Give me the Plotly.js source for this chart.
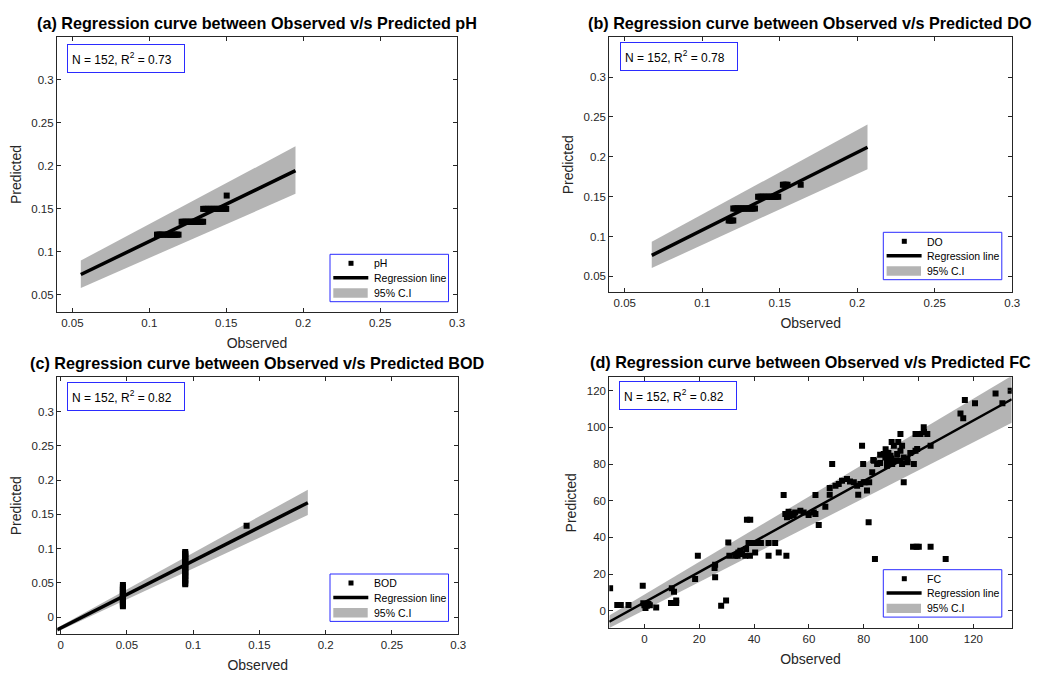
<!DOCTYPE html>
<html>
<head>
<meta charset="utf-8">
<script src="https://cdn.plot.ly/plotly-3.0.1.min.js"></script>
<style>html,body{margin:0;padding:0;background:#fff;}#chart{width:1038px;height:673px;}</style>
</head>
<body>
<div id="chart"></div>
<script>
// ---------- (a) pH ----------
const phObs  = [0.105,0.106,0.107,0.108,0.109,0.111,0.112,0.113,0.114,0.115,0.116,0.117,0.118,0.119,
                0.121,0.122,0.123,0.124,0.125,0.126,0.127,0.128,0.129,0.130,0.131,0.132,0.133,0.134,0.135,
                0.135,0.136,0.137,0.138,0.139,0.140,0.141,0.142,0.143,0.144,0.145,0.146,0.147,0.148,0.149,0.150,
                0.1503];
const phPred = [0.12,0.12,0.12,0.12,0.12,0.12,0.12,0.12,0.12,0.12,0.12,0.12,0.12,0.12,
                0.135,0.135,0.135,0.135,0.135,0.135,0.135,0.135,0.135,0.135,0.135,0.135,0.135,0.135,0.135,
                0.15,0.15,0.15,0.15,0.15,0.15,0.15,0.15,0.15,0.15,0.15,0.15,0.15,0.15,0.15,0.15,
                0.1655];
const phLineX = [0.0555, 0.195];
const phLineY = [0.0736, 0.1945];
const phBandX = [0.0555, 0.195];
const phBandLower = [0.058, 0.1675];
const phBandUpper = [0.0899, 0.2228];

// ---------- (b) DO ----------
const doObs  = [0.117,0.118,0.119,0.120,
                0.120,0.121,0.122,0.123,0.124,0.125,0.126,0.127,0.128,0.129,0.130,0.131,0.132,0.133,0.134,
                0.136,0.137,0.138,0.139,0.140,0.141,0.142,0.143,0.144,0.145,0.146,0.147,0.148,0.149,
                0.152,0.153,0.154,0.155,0.1635];
const doPred = [0.12,0.12,0.12,0.12,
                0.135,0.135,0.135,0.135,0.135,0.135,0.135,0.135,0.135,0.135,0.135,0.135,0.135,0.135,0.135,
                0.15,0.15,0.15,0.15,0.15,0.15,0.15,0.15,0.15,0.15,0.15,0.15,0.15,0.15,
                0.165,0.165,0.165,0.165,0.165];
const doLineX = [0.0674, 0.2066];
const doLineY = [0.0763, 0.212];
const doBandX = [0.0674, 0.2066];
const doBandLower = [0.0604, 0.1845];
const doBandUpper = [0.0933, 0.2404];

// ---------- (c) BOD ----------
const bodObs  = [0.047,0.047,0.047,0.047,0.047,0.047,0.047,0.047,0.047,0.047,0.047,0.047,0.047,0.047,0.047,0.047,
                 0.094,0.094,0.094,0.094,0.094,0.094,0.094,0.094,0.094,0.094,0.094,0.094,0.094,0.094,0.094,0.094,
                 0.094,0.094,0.094,0.094,0.094,0.094,0.094,0.094,
                 0.1403];
const bodPred = [0.016,0.018,0.020,0.022,0.024,0.026,0.028,0.030,0.032,0.034,0.036,0.038,0.040,0.042,0.044,0.047,
                 0.048,0.050,0.053,0.055,0.058,0.060,0.062,0.064,0.066,0.068,0.070,0.072,0.074,0.076,0.078,0.080,
                 0.082,0.084,0.086,0.088,0.090,0.092,0.093,0.095,
                 0.1335];
const bodLineX = [-0.0025, 0.1865];
const bodLineY = [-0.0184, 0.167];
const bodBandX = [-0.0025, 0.1865];
const bodBandLower = [-0.0214, 0.149];
const bodBandUpper = [-0.0154, 0.186];

// ---------- (d) FC ----------
const fcObs = [-12.5,-9.9,-8.6,-5.8,-0.6,-0.4,0.9,0.4,1.5,0,2,4.3,9.7,10.8,11.6,11.6,10,10.8,18.5,19.5,
               25.8,25.6,25.8,28,29.8,30.6,31,33.1,34.3,35.6,36.8,35,37.1,34,37.4,38.6,38,39.5,41,42.5,
               40.4,38.5,45.3,45.3,47.7,49,51.8,50.8,51.4,52.6,53.8,55,56.9,58.1,52,53,54.5,59.9,61.8,62.4,
               63.6,62.4,66,67.6,67.6,68.5,69.7,70.9,72.1,73.9,76.4,75,78,77.6,78.8,80,79.4,79.8,81.2,81.8,
               80.6,82,83.1,83.7,84.9,84.1,87.3,87.9,88.5,88.5,89.8,90.4,91,92.2,93.4,94,94,94.6,93.4,93.4,
               90.2,92.6,88,89,94.6,95.9,98.3,98.9,99.5,98.9,100.7,101.9,103.2,102,98,99.3,100.1,104.4,109.9,104.4,
               115.3,116.3,116.9,120.6,128.1,130.6,133.6,83.5,86,97,96,92,90,86];
const fcPred = [12.2,3.1,3.1,3.1,13.6,4,2.7,1.5,3.6,3,3,1.8,4.2,4.2,5.5,4.2,12.2,10.4,17.3,30,
                18.2,23.3,25,2.7,5.5,37.2,30,30,31.8,30.9,30,32.7,33.6,30,49.6,49.6,36.9,36.9,36.9,36.9,
                31.8,30,36.9,30,36.9,31.8,30,63.1,52.7,54,52.7,53.5,54.5,53.6,50.9,51.5,52,52.2,53.6,63.1,
                46.7,52.7,56.7,66.9,63.3,80,68.2,69.1,70.9,71.8,70,70.5,63.3,68.2,69.1,70,90,80,65.5,48.2,
                70,70,75.5,81.8,80,28.2,85.5,83.6,81.8,79.1,84.5,80,90,85.5,87.3,90,80,83.6,96.4,81.8,
                92,92,88,86,70,82.7,80,87.3,88.2,96.4,96.4,100,96.4,97.5,34.9,34.9,34.9,34.9,28.2,90,
                107.6,104.9,114.9,113.1,118.5,113.1,120,82.2,85,86,81,82,83,80.5];
const fcLineX = [-12.8, 134];
const fcLineY = [-6.0, 115.3];
const fcBandX = [-12.8, 134];
const fcBandLower = [-9.4, 102.5];
const fcBandUpper = [-2.6, 128.1];

// ---------- tick labels ----------
const tickSmallVals = [0.05,0.1,0.15,0.2,0.25,0.3];
const tickSmallText = ['0.05','0.1','0.15','0.2','0.25','0.3'];
const tickBodVals = [0,0.05,0.1,0.15,0.2,0.25,0.3];
const tickBodText = ['0','0.05','0.1','0.15','0.2','0.25','0.3'];
const tickFcVals = [0,20,40,60,80,100,120];
const tickFcText = ['0','20','40','60','80','100','120'];

const panelTitles = [
  '(a) Regression curve between Observed v/s Predicted pH',
  '(b) Regression curve between Observed v/s Predicted DO',
  '(c) Regression curve between Observed v/s Predicted BOD',
  '(d) Regression curve between Observed v/s Predicted FC'
];
const statTexts = ['N = 152, R<sup>2</sup> = 0.73','N = 152, R<sup>2</sup> = 0.78','N = 152, R<sup>2</sup> = 0.82','N = 152, R<sup>2</sup> = 0.82'];
const seriesNames = ['pH','DO','BOD','FC'];
const legendLabels = ['Regression line','95% C.I'];

const FONT = 'Liberation Sans, Arial, Helvetica, sans-serif';
const INK = '#262626';
const BAND = '#b4b4b4';
const BLUE = '#2b2bff';
const W = 1038, H = 673;

function panel(idx, bx, blo, bup, lx, ly, px, py, lineW) {
  const sfx = idx === 0 ? '' : String(idx + 1);
  const xa = 'x' + sfx, ya = 'y' + sfx;
  const bandX = [bx[0], bx[1], bx[1], bx[0]];
  const bandY = [blo[0], blo[1], bup[1], bup[0]];
  return [
    {type:'scatter', x:bandX, y:bandY, xaxis:xa, yaxis:ya, mode:'lines', fill:'toself',
     fillcolor:BAND, line:{width:0, color:BAND}, name:'95% C.I', hoverinfo:'skip'},
    {type:'scatter', x:lx, y:ly, xaxis:xa, yaxis:ya, mode:'lines',
     line:{color:'#000', width:lineW}, name:'Regression line'},
    {type:'scatter', x:px, y:py, xaxis:xa, yaxis:ya, mode:'markers',
     marker:{symbol:'square', size:6, color:'#000', line:{width:0}}, name:seriesNames[idx]}
  ];
}

const data = [].concat(
  panel(0, phBandX, phBandLower, phBandUpper, phLineX, phLineY, phObs, phPred, 3.5),
  panel(1, doBandX, doBandLower, doBandUpper, doLineX, doLineY, doObs, doPred, 3.5),
  panel(2, bodBandX, bodBandLower, bodBandUpper, bodLineX, bodLineY, bodObs, bodPred, 3.5),
  panel(3, fcBandX, fcBandLower, fcBandUpper, fcLineX, fcLineY, fcObs, fcPred, 2.5)
);

function ax(domain, range, vals, text, title, standoff, anchor) {
  return {
    domain:domain, range:range, anchor:anchor, tickmode:'array', tickvals:vals, ticktext:text,
    showline:true, linecolor:INK, linewidth:1, mirror:'ticks', ticks:'inside', ticklen:4, tickcolor:INK,
    showgrid:false, zeroline:false, tickfont:{family:FONT, size:11.5, color:INK},
    title:{text:title, font:{family:FONT, size:14, color:INK}, standoff:standoff}
  };
}

const px2x = v => v / W;
const px2y = v => 1 - v / H;

const titlePos = [[257,23],[810,23],[257.5,362.5],[810.5,362]];
const statPos = [[67.3,44.3],[620,42.3],[67.3,382],[619.3,380.7]];
const legendPos = [[330,254.3],[883.3,232.3],[330,574],[883.3,569.7]];

const annotations = [];
const shapes = [];
for (let i = 0; i < 4; i++) {
  annotations.push({text:'<b>' + panelTitles[i] + '</b>', xref:'paper', yref:'paper',
    x:px2x(titlePos[i][0]), y:px2y(titlePos[i][1]), xanchor:'center', yanchor:'middle', showarrow:false,
    font:{family:FONT, size:16.2, color:'#000'}});
  annotations.push({text:statTexts[i], xref:'paper', yref:'paper',
    x:px2x(statPos[i][0]), y:px2y(statPos[i][1]), xanchor:'left', yanchor:'top', showarrow:false,
    align:'left', width:108, height:19, borderpad:4, bordercolor:BLUE, borderwidth:1, bgcolor:'#fff',
    font:{family:FONT, size:12, color:'#000'}});

  // legend box (drawn by hand to keep MATLAB's compact spacing)
  const lx = legendPos[i][0], ly = legendPos[i][1];
  shapes.push({type:'rect', xref:'paper', yref:'paper', x0:px2x(lx), x1:px2x(lx+118.5), y0:px2y(ly), y1:px2y(ly+47.4),
    line:{color:BLUE, width:1}, fillcolor:'#fff', layer:'above'});
  shapes.push({type:'rect', xref:'paper', yref:'paper', x0:px2x(lx+18.5), x1:px2x(lx+23.5), y0:px2y(ly+6.5), y1:px2y(ly+11.5),
    line:{width:0}, fillcolor:'#000', layer:'above'});
  shapes.push({type:'line', xref:'paper', yref:'paper', x0:px2x(lx+3.3), x1:px2x(lx+38.3), y0:px2y(ly+23.4), y1:px2y(ly+23.4),
    line:{color:'#000', width:3.5}, layer:'above'});
  shapes.push({type:'rect', xref:'paper', yref:'paper', x0:px2x(lx+3.3), x1:px2x(lx+37.7), y0:px2y(ly+34), y1:px2y(ly+43.4),
    line:{width:0}, fillcolor:BAND, layer:'above'});
  const labels = [seriesNames[i], legendLabels[0], legendLabels[1]];
  const rowsY = [9.2, 23.6, 38.6];
  for (let k = 0; k < 3; k++) {
    annotations.push({text:labels[k], xref:'paper', yref:'paper', x:px2x(lx+41.5), y:px2y(ly+rowsY[k]),
      xanchor:'left', yanchor:'middle', showarrow:false, font:{family:FONT, size:10.5, color:'#000'}});
  }
}

const layout = {
  width:W, height:H, margin:{l:0, r:0, t:0, b:0},
  paper_bgcolor:'#fff', plot_bgcolor:'#fff', font:{family:FONT},
  showlegend:false,
  xaxis:  ax([0.0549,0.4403], [0.04,0.3], tickSmallVals, tickSmallText, 'Observed', 10, 'y'),
  yaxis:  ax([0.5364,0.945], [0.03,0.35], tickSmallVals, tickSmallText, 'Predicted', 6, 'x'),
  xaxis2: ax([0.587,0.9752], [0.04,0.3], tickSmallVals, tickSmallText, 'Observed', 10, 'y2'),
  yaxis2: ax([0.5657,0.9446], [0.03,0.35], tickSmallVals, tickSmallText, 'Predicted', 6, 'x2'),
  xaxis3: ax([0.0552,0.4415], [-0.0025,0.3], tickBodVals, tickBodText, 'Observed', 10, 'y3'),
  yaxis3: ax([0.0575,0.4394], [-0.025,0.35], tickBodVals, tickBodText, 'Predicted', 6, 'x3'),
  xaxis4: ax([0.587,0.9747], [-12.8,134], tickFcVals, tickFcText, 'Observed', 10, 'y4'),
  yaxis4: ax([0.0664,0.4394], [-9.6,127.3], tickFcVals, tickFcText, 'Predicted', 6, 'x4'),
  annotations:annotations,
  shapes:shapes
};

Plotly.newPlot('chart', data, layout, {displayModeBar:false, staticPlot:true});
</script>
</body>
</html>
